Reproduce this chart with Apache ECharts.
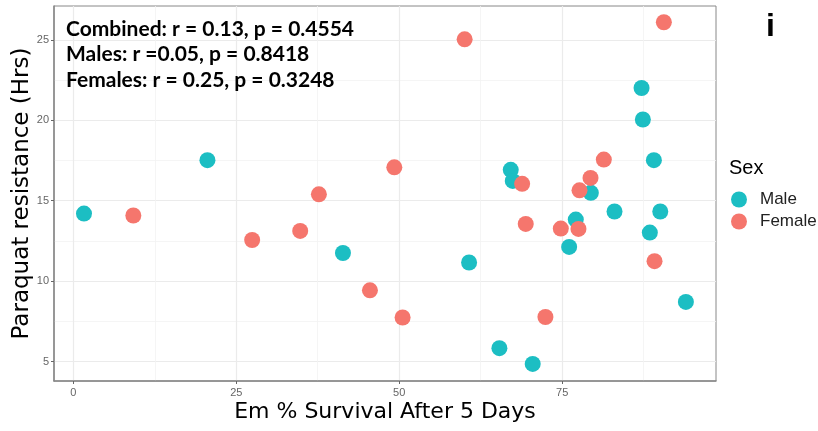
<!DOCTYPE html>
<html>
<head>
<meta charset="utf-8">
<script src="https://cdn.jsdelivr.net/npm/echarts@6/dist/echarts.min.js"></script>
<style>
  html, body {margin: 0; padding: 0; background: #fff;}
  #chart {width: 818px; height: 431px;}
</style>
</head>
<body>
<div id="chart"></div>
<script>
// values
const maleX = [1.64, 20.58, 41.37, 60.72, 65.37, 67.11, 67.42, 70.48, 76.07, 77.09, 79.4, 83.03, 87.18, 87.38, 88.45, 89.07, 90.05, 93.98];
const maleY = [14.2, 17.52, 11.75, 11.16, 5.83, 16.92, 16.23, 4.85, 12.13, 13.83, 15.49, 14.33, 22.01, 20.05, 13.02, 17.52, 14.33, 8.71];
const femaleX = [9.21, 27.44, 34.81, 37.68, 45.51, 49.25, 50.52, 60.04, 68.86, 69.41, 72.43, 74.79, 77.5, 77.66, 79.35, 81.39, 89.17, 90.6];
const femaleY = [14.08, 12.56, 13.12, 15.4, 9.43, 17.08, 7.74, 25.04, 16.05, 13.56, 7.77, 13.27, 13.25, 15.65, 16.42, 17.56, 11.24, 26.1];
const xTicks = [0, 25, 50, 75];
const xMinor = [12.5, 37.5, 62.5, 87.5];
const yTicks = [5, 10, 15, 20, 25];
const yMinor = [7.5, 12.5, 17.5, 22.5];
const statLines = ['Combined: r = 0.13, p = 0.4554', 'Males: r =0.05, p = 0.8418', 'Females: r = 0.25, p = 0.3248'];

const xRange = {min: -2.96, max: 98.6};
const yRange = {min: 3.79, max: 27.11};

const font = 'Liberation Sans';
const titleFont = 'DejaVu Sans';
const tickText = {color: '#666', fontSize: 11, fontFamily: font};
const tickLine = {color: '#666', width: 1};
const edge = {show: true, onZero: false, lineStyle: {color: '#888', width: 1.5}};

const chart = echarts.init(document.getElementById('chart'));
chart.setOption({
  animation: false,
  backgroundColor: '#fff',
  grid: {left: 54, right: 102, top: 6, bottom: 50, outerBoundsMode: 'none',
    show: true, borderColor: '#888', borderWidth: 1},
  title: [
    {text: 'i', left: 766, top: 11, padding: 0,
      textStyle: {fontSize: 32, fontWeight: 'bold', fontFamily: font, color: '#000'}},
    {text: 'Sex', left: 729, top: 158, padding: 0,
      textStyle: {fontSize: 20, fontWeight: 'normal', fontFamily: font, color: '#000'}},
    {text: statLines.join('\n'), left: 66, top: 16, padding: 0,
      textStyle: {fontSize: 21, fontWeight: 'bold', fontFamily: 'Lato', color: '#000', lineHeight: 25.7}}
  ],
  legend: {
    data: ['Male', 'Female'], orient: 'vertical', left: 731, top: 191, padding: 0,
    icon: 'circle', itemWidth: 16, itemHeight: 16, itemGap: 5,
    textStyle: {fontSize: 17, fontFamily: font, color: '#222', padding: [0, 0, 0, 8]}
  },
  xAxis: [
    {
      type: 'value', ...xRange,
      name: 'Em % Survival After 5 Days', nameLocation: 'middle', nameGap: 20, nameMoveOverlap: false,
      nameTextStyle: {fontSize: 22, fontFamily: titleFont, color: '#000', verticalAlign: 'top'},
      axisLine: edge,
      axisTick: {show: true, customValues: xTicks, length: 3, lineStyle: tickLine},
      axisLabel: {customValues: xTicks, margin: 6, ...tickText},
      splitLine: {show: true, lineStyle: {color: '#ebebeb', width: 1.2}}
    },
    {
      type: 'value', ...xRange, position: 'bottom',
      axisLine: {show: false}, axisTick: {show: false, customValues: xMinor},
      axisLabel: {show: false, customValues: xMinor},
      splitLine: {show: true, lineStyle: {color: '#f3f3f3', width: 0.8}}
    }
  ],
  yAxis: [
    {
      type: 'value', ...yRange,
      name: 'Paraquat resistance (Hrs)', nameLocation: 'middle', nameGap: 20, nameMoveOverlap: false,
      nameTextStyle: {fontSize: 23, fontFamily: titleFont, color: '#000'},
      axisLine: edge,
      axisTick: {show: true, customValues: yTicks, length: 3, lineStyle: tickLine},
      axisLabel: {customValues: yTicks, margin: 5, ...tickText},
      splitLine: {show: true, lineStyle: {color: '#ebebeb', width: 1.2}}
    },
    {
      type: 'value', ...yRange, position: 'left',
      axisLine: {show: false}, axisTick: {show: false, customValues: yMinor},
      axisLabel: {show: false, customValues: yMinor},
      splitLine: {show: true, lineStyle: {color: '#f3f3f3', width: 0.8}}
    }
  ],
  series: [
    {
      name: 'Male', type: 'scatter', symbolSize: 16,
      itemStyle: {color: '#1CBEC3', opacity: 1},
      data: maleX.map((x, i) => [x, maleY[i]])
    },
    {
      name: 'Female', type: 'scatter', symbolSize: 16,
      itemStyle: {color: '#F5766D', opacity: 1},
      data: femaleX.map((x, i) => [x, femaleY[i]])
    }
  ]
});
</script>
</body>
</html>
